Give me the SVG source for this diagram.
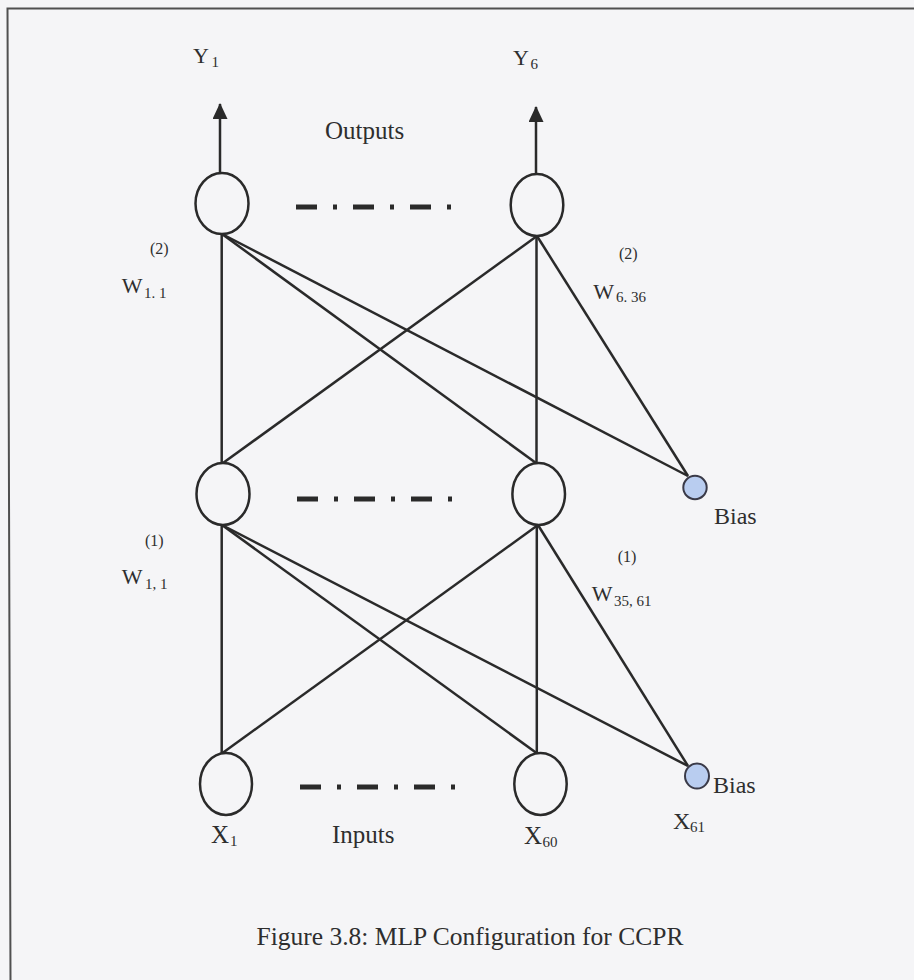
<svg xmlns="http://www.w3.org/2000/svg" width="914" height="980" viewBox="0 0 914 980">
<defs>
<style>
.bg{fill:#f5f5f7}
.frame{fill:none;stroke:#505050;stroke-width:2}
.node{fill:#f5f5f7;stroke:#2a2a2a;stroke-width:2.5}
.bias{fill:#b9cdf0;stroke:#3a3a48;stroke-width:2}
.edge{fill:none;stroke:#2a2a2a;stroke-width:2.5}
.dots{fill:none;stroke:#2a2a2a;stroke-width:5;stroke-dasharray:21 16 4 16}
text{font-family:"Liberation Serif","Times New Roman",serif;fill:#2e2e2e}
.lbl{font-size:25px}
.sym{font-size:22px}
.sub{font-size:15px}
.sup{font-size:16px}
</style>
<marker id="arrow" viewBox="0 0 16 15" refX="15" refY="7.5" markerWidth="16" markerHeight="15" markerUnits="userSpaceOnUse" orient="auto">
<path d="M0,0 L16,7.5 L0,15 z" fill="#2a2a2a"/>
</marker>
</defs>
<rect class="bg" x="0" y="0" width="914" height="980"/>
<path class="frame" d="M10.5,980 L7.5,8.5 L914,8.5"/>

<g id="connectors">
<line class="edge" x1="220" y1="173" x2="220" y2="104" marker-end="url(#arrow)"/>
<line class="edge" x1="536" y1="174" x2="536" y2="107" marker-end="url(#arrow)"/>
<line class="edge" x1="221.7" y1="234" x2="221.7" y2="463"/>
<line class="edge" x1="222" y1="234" x2="536" y2="463"/>
<line class="edge" x1="222" y1="234" x2="688" y2="476"/>
<line class="edge" x1="537" y1="236" x2="223" y2="463"/>
<line class="edge" x1="536.5" y1="236" x2="536.5" y2="463"/>
<line class="edge" x1="537" y1="236" x2="688" y2="476"/>
<line class="edge" x1="221.7" y1="525" x2="221.7" y2="753"/>
<line class="edge" x1="222" y1="525" x2="536.5" y2="753"/>
<line class="edge" x1="222" y1="525" x2="688" y2="766"/>
<line class="edge" x1="538" y1="525" x2="222.5" y2="753"/>
<line class="edge" x1="536.8" y1="525" x2="536.8" y2="753"/>
<line class="edge" x1="538" y1="525" x2="688" y2="766"/>
</g>

<g id="output-dots"><line class="dots" x1="296" y1="207" x2="452" y2="207"/></g>
<g id="hidden-dots"><line class="dots" x1="297" y1="499" x2="454" y2="499"/></g>
<g id="input-dots"><line class="dots" x1="300" y1="787" x2="456" y2="787"/></g>

<g id="node-y1">
<ellipse class="node" cx="222" cy="203.5" rx="26.5" ry="30.5"/>
<text class="sym" x="193" y="63">Y<tspan class="sub" x="211.5" y="67">1</tspan></text>
</g>
<g id="node-y6">
<ellipse class="node" cx="537" cy="205" rx="26.3" ry="31"/>
<text class="sym" x="513" y="65">Y<tspan class="sub" x="530.5" y="68.5">6</tspan></text>
</g>
<g id="label-outputs"><text class="lbl" x="325" y="139">Outputs</text></g>

<g id="node-h1"><ellipse class="node" cx="223" cy="494" rx="26.5" ry="31"/></g>
<g id="node-h35"><ellipse class="node" cx="538.7" cy="494" rx="26.3" ry="31"/></g>
<g id="bias-hidden">
<circle class="bias" cx="695" cy="487.5" r="11.7"/>
<text class="lbl" x="714" y="524" style="font-size:24px">Bias</text>
</g>

<g id="node-x1">
<ellipse class="node" cx="226" cy="784" rx="26" ry="31"/>
<text class="lbl" x="211" y="843">X<tspan class="sub" x="230" y="846">1</tspan></text>
</g>
<g id="node-x60">
<ellipse class="node" cx="540.5" cy="784" rx="26.2" ry="31"/>
<text class="lbl" x="524" y="844">X<tspan class="sub" x="542.5" y="847">60</tspan></text>
</g>
<g id="bias-input">
<ellipse class="bias" cx="697" cy="776" rx="12" ry="12.5"/>
<text class="lbl" x="713" y="793" style="font-size:24px">Bias</text>
<text class="lbl" x="673" y="828.5" style="font-size:24px">X<tspan class="sub" x="690" y="832">61</tspan></text>
</g>
<g id="label-inputs"><text class="lbl" x="332" y="843">Inputs</text></g>

<g id="weight-labels">
<text class="sup" x="150" y="254">(2)</text>
<text class="sym" x="121.7" y="293">W<tspan class="sub" x="144" y="297.7">1. 1</tspan></text>
<text class="sup" x="619" y="259.3">(2)</text>
<text class="sym" x="593.3" y="299">W<tspan class="sub" x="616" y="301.7">6. 36</tspan></text>
<text class="sup" x="145" y="546">(1)</text>
<text class="sym" x="121.7" y="584">W<tspan class="sub" x="145" y="589.3">1, 1</tspan></text>
<text class="sup" x="617.7" y="561.7">(1)</text>
<text class="sym" x="591.7" y="601">W<tspan class="sub" x="614" y="605.7">35, 61</tspan></text>
</g>

<g id="caption"><text x="256.5" y="945" style="font-size:25.5px">Figure 3.8: MLP Configuration for CCPR</text></g>
</svg>
